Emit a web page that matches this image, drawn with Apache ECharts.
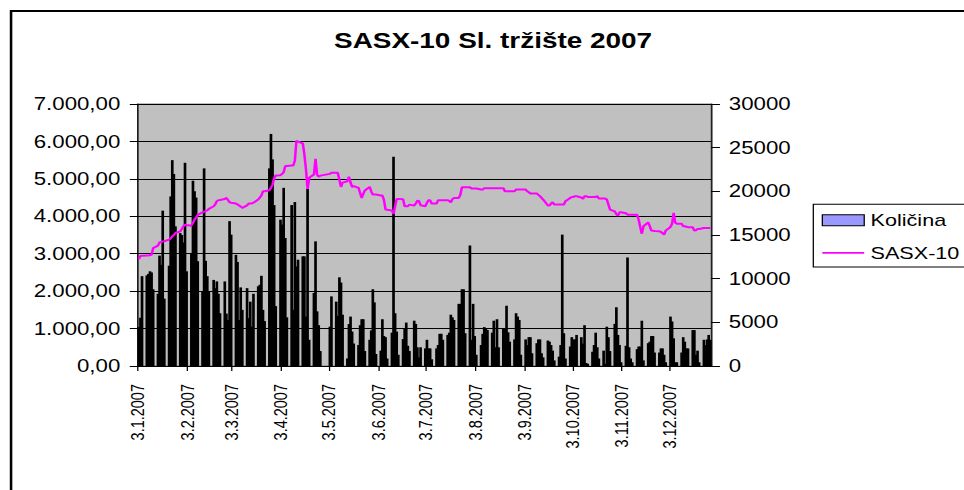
<!DOCTYPE html>
<html>
<head>
<meta charset="utf-8">
<title>SASX-10 Sl. tržište 2007</title>
<script src="https://cdn.jsdelivr.net/npm/echarts@6/dist/echarts.min.js"></script>
<style>
    html, body { margin: 0; padding: 0; background: #fff; overflow: hidden; }
    /* the source picture is stretched sideways, so the chart is drawn narrow and widened */
    #chart { width: 760px; height: 490px; transform: scaleX(1.27); transform-origin: 0 0; }
</style>
</head>
<body>
<div id="chart"></div>
<script>
// trgovački dani 2007 (dan.mjesec)
const tradeDays = [
    '3.1','4.1','5.1','8.1','9.1','10.1','11.1','12.1','15.1','16.1','17.1','18.1','19.1','22.1','23.1','24.1','25.1','26.1','29.1','30.1','31.1',
    '1.2','2.2','5.2','6.2','7.2','8.2','9.2','12.2','13.2','14.2','15.2','16.2','19.2','20.2','21.2','22.2','23.2','26.2','27.2','28.2',
    '1.3','2.3','5.3','6.3','7.3','8.3','9.3','12.3','13.3','14.3','15.3','16.3','19.3','20.3','21.3','22.3','23.3','26.3','27.3','28.3','29.3','30.3',
    '2.4','3.4','4.4','5.4','6.4','9.4','10.4','11.4','12.4','13.4','16.4','17.4','18.4','19.4','20.4','23.4','24.4','25.4','26.4','27.4',
    '3.5','4.5','7.5','8.5','9.5','10.5','11.5','14.5','15.5','16.5','17.5','18.5','21.5','22.5','23.5','24.5','25.5','28.5','29.5','30.5','31.5',
    '1.6','4.6','5.6','6.6','7.6','8.6','11.6','12.6','13.6','14.6','15.6','18.6','19.6','20.6','21.6','22.6','25.6','26.6','27.6','28.6','29.6',
    '2.7','3.7','4.7','5.7','6.7','9.7','10.7','11.7','12.7','13.7','16.7','17.7','18.7','19.7','20.7','23.7','24.7','25.7','26.7','27.7','30.7','31.7',
    '1.8','2.8','3.8','6.8','7.8','8.8','9.8','10.8','13.8','14.8','15.8','16.8','17.8','20.8','21.8','22.8','23.8','24.8','27.8','28.8','29.8','30.8','31.8',
    '3.9','4.9','5.9','6.9','7.9','10.9','11.9','12.9','13.9','14.9','17.9','18.9','19.9','20.9','21.9','24.9','25.9','26.9','27.9','28.9',
    '1.10','2.10','3.10','4.10','5.10','8.10','9.10','10.10','11.10','12.10','15.10','16.10','17.10','18.10','19.10','22.10','23.10','24.10','25.10','26.10','29.10','30.10','31.10',
    '1.11','2.11','5.11','6.11','7.11','8.11','9.11','12.11','13.11','14.11','15.11','16.11','19.11','20.11','21.11','22.11','23.11','26.11','27.11','28.11','29.11','30.11',
    '3.12','4.12','5.12','6.12','7.12','10.12','11.12','12.12','13.12','14.12','17.12','18.12','19.12','20.12','21.12','24.12','25.12','26.12','27.12','28.12'
];

// Količina (lijeva osa)
const kolicina = [
    1040,1290,2400,2420,2460,2530,2500,2050,1930,2950,2700,4150,1800,2680,4530,5500,5130,3730,3550,3500,3300,
    5430,2530,3020,4950,4670,4500,2800,1990,5280,2810,2400,1990,2300,2080,2260,1930,1410,2260,1400,1230,
    3870,3510,2970,2780,1230,2100,1500,2080,1280,1720,1050,1930,2130,2170,2410,1500,1200,5280,6200,5520,4300,1600,
    3910,3780,4760,3420,1300,4300,1500,4380,2660,2840,2930,2930,1320,4730,700,1950,3330,1460,1090,400,
    1050,1860,1720,1340,2370,2230,1370,200,1120,1320,920,600,560,1090,1250,1250,400,700,950,2050,1700,
    320,410,1250,800,770,200,890,5590,1410,920,300,720,1010,1160,540,400,1210,1125,500,230,500,
    470,700,470,470,180,470,560,860,860,700,830,890,1370,1300,1230,1660,1660,2050,2050,875,3220,700,
    1660,800,300,560,860,1040,1000,960,890,1210,500,1250,500,1010,1010,1610,900,650,710,1410,1320,1230,300,
    710,560,770,770,340,610,710,710,340,230,680,650,560,410,150,250,560,3510,875,200,
    520,770,710,710,830,770,600,1090,80,60,380,560,890,500,200,410,60,1050,770,400,1125,1570,830,
    560,100,540,2900,500,200,100,450,520,520,1210,150,610,650,800,800,360,360,470,470,300,100,
    1320,1190,740,100,100,360,770,650,470,470,960,960,300,410,100,700,560,710,830,700
];

// SASX-10 (desna osa)
const sasx10 = [
    12250,12600,12630,12650,12640,12700,12740,13500,13780,14160,14200,14270,14280,14470,14600,14850,15000,15230,15420,15700,16000,
    16190,16150,16070,16400,16760,17000,17300,17600,17680,17750,17830,18000,18290,18500,18870,18980,19000,19130,19250,19000,
    18750,18700,18600,18500,18370,18250,18100,18400,18600,18600,18620,18700,19060,19300,19520,20000,20010,20130,20400,20780,21500,21810,
    21850,22000,22200,22890,22900,22960,22960,23500,25790,25700,25500,24220,22500,20280,21550,21930,23730,21900,21660,21800,
    22000,22120,22120,22120,21300,20510,21000,21160,21660,21000,20510,20600,20400,19800,19250,19700,20100,20510,20000,19630,19630,
    19630,19520,19520,19000,17910,17900,17800,17410,18300,19130,19130,19100,18290,18290,18300,18480,18370,18600,18940,18900,18400,
    18290,18700,18980,18980,18600,18600,18980,18980,18980,18980,18980,18900,18750,19100,19250,19250,19630,20470,20470,20470,20470,20320,
    20320,20320,20320,20200,20200,20360,20360,20360,20360,20360,20360,20340,20360,20360,20010,20010,20010,20010,20010,20200,20200,20200,20200,
    20200,20010,19900,19750,19750,19750,19600,19440,19250,19060,18370,18370,18600,18750,18480,18480,18480,18480,18480,18870,
    19250,19360,19360,19440,19440,19300,19130,19440,19440,19360,19360,19360,19360,19440,19170,19170,19170,19060,18480,17910,17700,17400,17220,
    17600,17600,17500,17330,17330,17330,17330,17330,16760,15900,15150,16000,16450,16000,15500,15480,15450,15420,15350,15200,15040,15500,
    15920,16300,17530,16400,16300,16300,16000,16000,15950,15900,15880,15500,15550,15690,15690,15800,15800,15800,15800,15800
];

// oznake na x osi
const monthTicks = ['3.1','3.2','3.3','3.4','3.5','3.6','3.7','3.8','3.9','3.10','3.11','3.12'];

const leftTicks = { min: 0, max: 7000, interval: 1000 };
const rightTicks = { min: 0, max: 30000, interval: 5000 };

if (tradeDays.length !== kolicina.length || tradeDays.length !== sasx10.length) {
    console.error('duljine se ne slažu', tradeDays.length, kolicina.length, sasx10.length);
}

function toTime(s, hour) {
    const parts = s.split('.').map(Number);
    return new Date(2007, parts[1] - 1, parts[0], hour || 0).getTime();
}

// 7000 -> "7.000,00"
function formatAmount(v) {
    return Math.round(v).toString().replace(/\B(?=(\d{3})+(?!\d))/g, '.') + ',00';
}

const font = 'Liberation Sans, Arial, sans-serif';
const tickTimes = monthTicks.map(s => toTime(s, 0));
const barData = tradeDays.map((d, i) => [toTime(d, 12), kolicina[i]]);
const lineData = tradeDays.map((d, i) => [toTime(d, 12), sasx10[i]]);

const chart = echarts.init(document.getElementById('chart'), null, { renderer: 'svg' });

chart.setOption({
    animation: false,
    backgroundColor: '#fff',
    title: {
        text: 'SASX-10 Sl. tržište 2007',
        left: 263,
        top: 29,
        padding: 0,
        textStyle: { fontFamily: font, fontWeight: 'bold', fontSize: 22, color: '#000' }
    },
    legend: {
        orient: 'vertical',
        left: 640.4,
        top: 204.3,
        padding: [6, 6, 4, 6.6],
        itemWidth: 33,
        itemHeight: 11,
        itemGap: 12.6,
        borderColor: '#000',
        borderWidth: 1,
        borderRadius: 0,
        textStyle: { fontFamily: font, fontSize: 17, color: '#000', lineHeight: 20 },
        data: [
            { name: 'Količina', icon: 'rect', itemStyle: { color: '#9999FF', borderColor: '#000', borderWidth: 1 } },
            { name: 'SASX-10', icon: 'path://M0,0H33V1.6H0Z', itemStyle: { color: '#FF00FF', borderWidth: 0 } }
        ]
    },
    graphic: [{
        type: 'rect',
        shape: { x: 8.7, y: 11, width: 900, height: 600 },
        style: { fill: 'none', stroke: '#000', lineWidth: 2 },
        silent: true
    }],
    grid: {
        left: 108.7,
        top: 104,
        width: 451.2,
        height: 262,
        show: true,
        backgroundColor: '#C0C0C0',
        borderColor: '#808080',
        borderWidth: 1
    },
    xAxis: {
        // datumi kao brojevi (ms), da oznake mogu stajati na 3. u mjesecu
        type: 'value',
        min: toTime('3.1', 0),
        max: toTime('29.12', 0),
        axisLine: { onZero: false, lineStyle: { color: '#000', width: 1 } },
        axisTick: { show: true, customValues: tickTimes, length: 5, lineStyle: { color: '#000' } },
        axisLabel: {
            customValues: tickTimes,
            rotate: 90,
            margin: 18,
            fontFamily: font,
            fontSize: 14.5,
            color: '#000',
            formatter: function (v) {
                const d = new Date(v);
                return d.getDate() + '.' + (d.getMonth() + 1) + '.' + d.getFullYear();
            }
        },
        splitLine: { show: false }
    },
    yAxis: [{
        type: 'value',
        position: 'left',
        min: leftTicks.min,
        max: leftTicks.max,
        interval: leftTicks.interval,
        axisLine: { show: true, lineStyle: { color: '#000' } },
        axisTick: { show: true, length: 6.5, lineStyle: { color: '#000' } },
        axisLabel: { margin: 14, fontFamily: font, fontSize: 17.5, color: '#000', formatter: formatAmount },
        splitLine: { show: true, lineStyle: { color: '#000', width: 1 } }
    }, {
        type: 'value',
        position: 'right',
        min: rightTicks.min,
        max: rightTicks.max,
        interval: rightTicks.interval,
        axisLine: { show: true, lineStyle: { color: '#000' } },
        axisTick: { show: true, length: 7, lineStyle: { color: '#000' } },
        axisLabel: { margin: 14, fontFamily: font, fontSize: 17.5, color: '#000', formatter: v => String(v) },
        splitLine: { show: false }
    }],
    series: [{
        name: 'Količina',
        type: 'bar',
        yAxisIndex: 0,
        data: barData,
        barWidth: 2.1,
        itemStyle: { color: '#000' }
    }, {
        name: 'SASX-10',
        type: 'line',
        yAxisIndex: 1,
        data: lineData,
        symbol: 'none',
        lineStyle: { color: '#FF00FF', width: 2 },
        itemStyle: { color: '#FF00FF' },
        z: 5
    }]
});
</script>
</body>
</html>
